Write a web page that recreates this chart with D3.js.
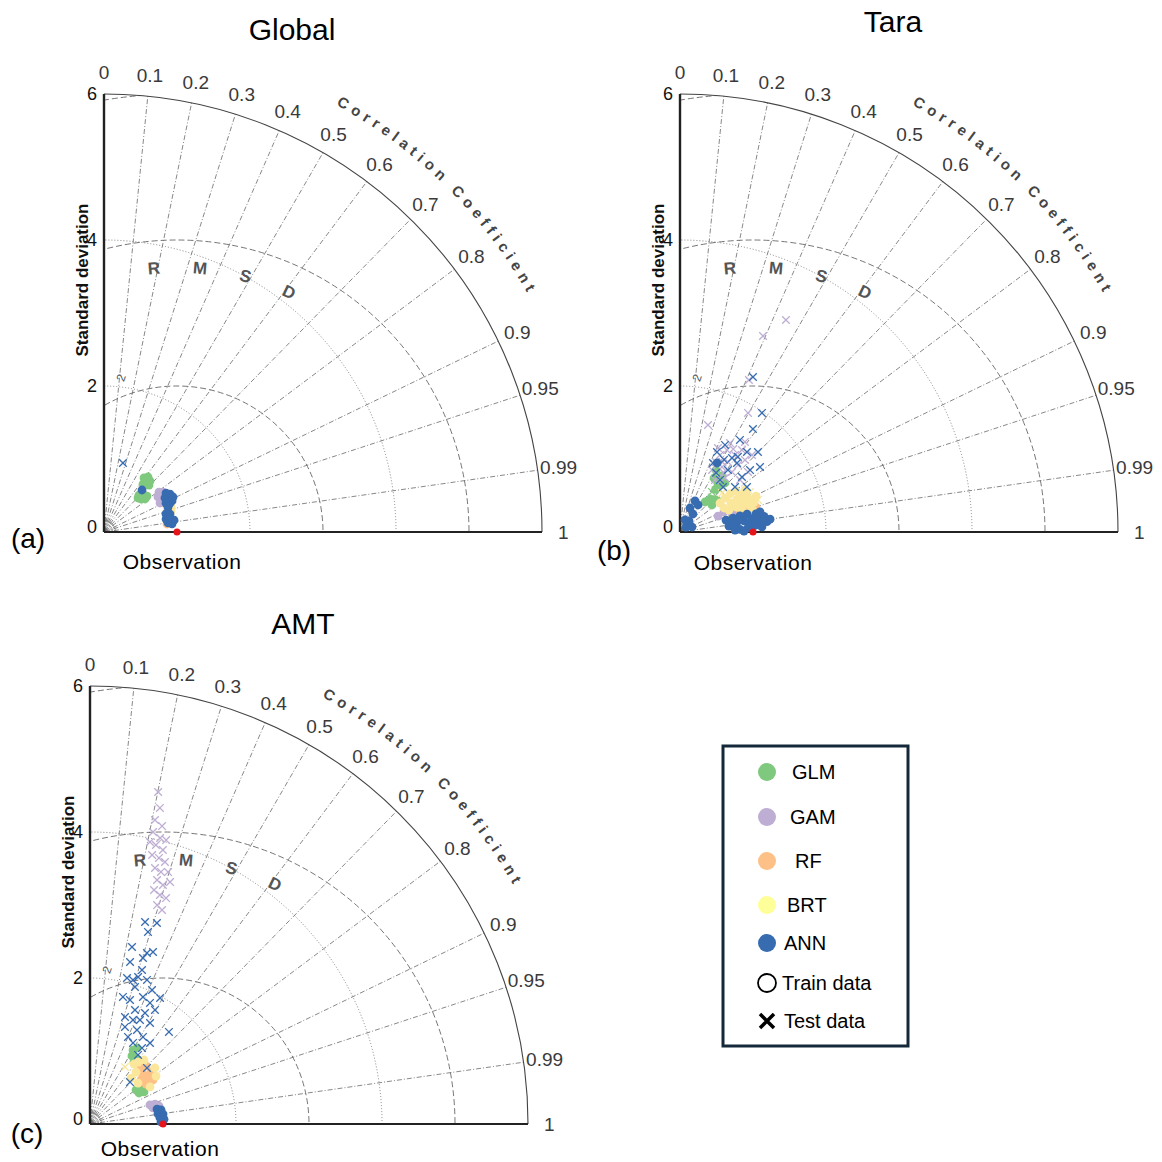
<!DOCTYPE html>
<html>
<head>
<meta charset="utf-8">
<script src="https://cdn.jsdelivr.net/npm/d3@7"></script>
<style>
  body { margin: 0; background: #fff; }
  svg { display: block; }
  text { font-family: "Liberation Sans", Arial, Helvetica, sans-serif; }
</style>
</head>
<body>
<svg id="chart" width="1162" height="1162"></svg>
<script>
// ---- Taylor diagram settings -------------------------------------------
const panelTitles = ["Global", "Tara", "AMT"];
const panelTags = ["(a)", "(b)", "(c)"];
const models = ["GLM", "GAM", "RF", "BRT", "ANN"];
const legendColors = ["#7fc97f", "#beaed4", "#fdc086", "#ffff99", "#386cb0"];
const markerColors = ["#7fc97f", "#beaed4", "#fdc086", "#fbe79c", "#386cb0"];
const corrTicks = [0, 0.1, 0.2, 0.3, 0.4, 0.5, 0.6, 0.7, 0.8, 0.9, 0.95, 0.99, 1];
const corrTickLabels = ["0", "0.1", "0.2", "0.3", "0.4", "0.5", "0.6", "0.7", "0.8", "0.9", "0.95", "0.99", "1"];
const corrAxisTitle = "Correlation Coefficient";
const stdTicks = [0, 2, 4, 6];
const stdCircles = [2, 4];
const rmsdCircles = [2, 4, 6];
const obsStd = 1;
const stdMax = 6;

// ---- Model skill points: [standard deviation, correlation] --------------
// Global
const aGLMtrain = [[0.921,0.595],[0.965,0.625],[0.941,0.670],[0.884,0.651],[0.847,0.631],[0.891,0.692],[0.915,0.628],
  [0.697,0.687],[0.746,0.716],[0.768,0.767],[0.679,0.746],[0.721,0.779],[0.659,0.707]];
const aGAMtrain = [[0.931,0.809],[0.976,0.828],[0.881,0.839],[0.921,0.863],[0.864,0.888],[0.913,0.900]];
const aRFtrain = [[0.870,0.992]];
const aBRTtrain = [[0.928,0.930],[0.980,0.937],[0.910,0.949],[0.962,0.954]];
const aANNtrain = [[0.776,0.671],[1.003,0.847],[1.043,0.867],[0.957,0.873],[1.005,0.886],[1.060,0.892],[0.937,0.906],
  [0.987,0.916],[0.941,0.932],[1.024,0.910],[0.884,0.960],[0.937,0.965],[0.868,0.979],[0.921,0.981],[0.973,0.986],
  [0.886,0.990],[0.938,0.993]];
const aANNtest = [[0.980,0.265]];

// Tara
const bGLMtrain = [[0.535,0.640],[0.611,0.673],[0.573,0.764],[0.670,0.757],[0.874,0.533],[0.828,0.629],[0.959,0.600],
  [0.911,0.676],[0.982,0.502],[1.035,0.887],[0.640,0.720],[0.760,0.640]];
const bGLMtest = [[0.702,0.624],[0.794,0.690],[0.880,0.580]];
const bGAMtrain = [[0.565,0.922],[0.662,0.910],[0.756,0.925],[0.806,0.952]];
const bGAMtest = [[0.956,0.459],[1.078,0.457],[1.189,0.461],[1.060,0.543],[1.295,0.497],[1.163,0.565],[1.088,0.655],
  [1.296,0.581],[1.214,0.655],[1.408,0.603],[1.329,0.670],[1.243,0.750],[0.963,0.640],[0.858,0.558],[1.088,0.756],
  [1.398,0.490],[1.444,0.683],[1.263,0.412],[1.515,0.253],[1.521,0.585],[1.878,0.496],[2.286,0.413],[2.916,0.390],
  [3.247,0.447],[1.120,0.520],[1.350,0.540],[1.010,0.590]];
const bRFtrain = [[0.875,0.939],[0.971,0.946],[1.024,0.963],[0.924,0.963],[1.096,0.950]];
const bBRTtrain = [[0.677,0.810],[0.772,0.798],[0.687,0.878],[0.860,0.796],[0.804,0.869],[0.735,0.913],[0.951,0.807],
  [0.902,0.866],[0.840,0.913],[0.989,0.859],[0.950,0.908],[0.901,0.942],[1.042,0.894],[1.015,0.931],[1.094,0.927],
  [1.035,0.953],[1.060,0.840],[1.152,0.904]];
const bBRTtest = [[0.785,0.733],[1.104,0.868],[1.155,0.925]];
const bANNtrain = [[0.651,0.968],[0.676,0.993],[0.751,0.967],[0.775,0.990],[0.851,0.966],[0.823,0.999],[0.890,0.985],
  [0.951,0.966],[0.934,0.998],[1.002,0.984],[1.032,0.996],[1.070,0.973],[1.094,0.989],[1.125,0.998],[1.171,0.983],
  [1.200,0.993],[0.877,0.9999],[0.754,0.9994],[1.130,0.970],[1.246,0.990],[0.700,0.980],[0.810,0.982],[0.970,0.992],
  [1.060,0.985],[1.150,0.992],
  [0.107,0.770],[0.195,0.633],[0.304,0.585],[0.356,0.385],[0.472,0.435],[0.445,0.555],[0.178,0.384],[0.178,0.923],
  [1.073,0.473]];
const bANNtest = [[1.729,0.578],[1.980,0.567],[1.530,0.698],[1.429,0.642],[1.207,0.420],[1.226,0.637],[1.074,0.612],
  [1.135,0.748],[0.899,0.609],[1.281,0.749],[0.973,0.774],[0.853,0.691],[1.105,0.830],[1.048,0.431],[2.347,0.426],
  [1.239,0.575],[1.342,0.459],[1.505,0.546],[1.412,0.776],[1.160,0.520],[1.300,0.610],[0.950,0.520]];

// AMT
const cGLMtrain = [[1.172,0.503],[1.224,0.526],[1.095,0.525],[1.102,0.572],[1.041,0.579],[0.784,0.804],[0.836,0.819],
  [0.860,0.860],[0.794,0.845]];
const cGAMtrain = [[0.862,0.953],[0.931,0.956],[0.977,0.968],[0.890,0.969]];
const cGAMtest = [[4.643,0.201],[4.434,0.216],[4.258,0.209],[4.199,0.235],[4.092,0.211],[4.034,0.238],[4.027,0.259],
  [3.927,0.230],[3.884,0.257],[3.782,0.225],[3.765,0.251],[3.733,0.275],[3.618,0.246],[3.587,0.271],[3.613,0.296],
  [3.466,0.265],[3.423,0.292],[3.492,0.314],[3.323,0.264],[3.280,0.292],[3.266,0.319],[3.137,0.293],[3.093,0.319],
  [3.949,0.208]];
const cRFtrain = [[1.028,0.666],[1.105,0.694],[1.098,0.761],[0.998,0.727],[1.014,0.784],[0.923,0.757],[0.943,0.814],
  [1.053,0.820]];
const cBRTtrain = [[1.019,0.592],[1.074,0.613],[0.951,0.663],[1.175,0.757],[1.118,0.809],[0.966,0.851],[0.865,0.761],
  [0.844,0.666],[1.147,0.645]];
const cBRTtest = [[0.916,0.523]];
const cANNtrain = [[0.941,0.976],[0.992,0.981],[0.942,0.989],[1.009,0.991],[0.962,0.996],[1.016,0.998],[0.973,0.9996]];
const cANNtest = [[2.868,0.263],[2.902,0.316],[2.748,0.289],[2.492,0.231],[2.509,0.344],[2.469,0.316],[2.387,0.304],
  [2.286,0.240],[2.227,0.320],[2.119,0.311],[2.063,0.246],[2.059,0.286],[2.122,0.368],[1.975,0.312],[2.023,0.420],
  [1.975,0.486],[1.798,0.251],[1.785,0.307],[1.885,0.385],[1.851,0.444],[1.679,0.367],[1.697,0.444],[1.798,0.495],
  [1.542,0.311],[1.542,0.382],[1.581,0.433],[1.610,0.511],[1.413,0.339],[1.440,0.447],[1.301,0.400],[1.396,0.520],
  [1.257,0.469],[1.381,0.595],[1.661,0.651],[1.261,0.565],[1.095,0.713],[0.794,0.690],[1.152,0.571]];

const panelData = [
  { GLM: [aGLMtrain, []], GAM: [aGAMtrain, []], RF: [aRFtrain, []], BRT: [aBRTtrain, []], ANN: [aANNtrain, aANNtest] },
  { GLM: [bGLMtrain, bGLMtest], GAM: [bGAMtrain, bGAMtest], RF: [bRFtrain, []], BRT: [bBRTtrain, bBRTtest], ANN: [bANNtrain, bANNtest] },
  { GLM: [cGLMtrain, []], GAM: [cGAMtrain, cGAMtest], RF: [cRFtrain, []], BRT: [cBRTtrain, cBRTtest], ANN: [cANNtrain, cANNtest] }
];

// ---- Layout --------------------------------------------------------------
const layout = [
  { ox: 104, oy: 532, title: [292, 40], tag: [28, 548], obs: [182, 569] },
  { ox: 680, oy: 532, title: [893, 32], tag: [614, 560], obs: [753, 570] },
  { ox: 90, oy: 1124, title: [303, 634], tag: [27, 1143], obs: [160, 1156] }
];

const svg = d3.select("#chart");
const r = d3.scaleLinear().domain([0, stdMax]).range([0, 438]);

// Cartesian position of a (std, corr) pair relative to the panel origin
const px = (s, c) => r(s * c);
const py = (s, c) => -r(s * Math.sqrt(Math.max(0, 1 - c * c)));

const defs = svg.append("defs");

layout.forEach((L, i) => {
  const g = svg.append("g").attr("transform", `translate(${L.ox},${L.oy})`);
  const R = r(stdMax);

  defs.append("clipPath").attr("id", `quarter${i}`)
    .append("path")
    .attr("d", `M0,0L${R},0A${R},${R} 0 0 0 0,${-R}Z`);

  const grid = g.append("g").attr("fill", "none");

  // correlation rays (dash-dot)
  corrTicks.filter(c => c > 0 && c < 1).forEach(c => {
    grid.append("line")
      .attr("x1", 0).attr("y1", 0)
      .attr("x2", px(stdMax, c)).attr("y2", py(stdMax, c))
      .attr("stroke", "#6a6a6a").attr("stroke-width", 0.8)
      .attr("stroke-dasharray", "5,2,1,2");
  });

  // small arcs around the origin where the rays converge
  [0.04, 0.08, 0.12, 0.16].forEach(s => {
    grid.append("path")
      .attr("d", `M${r(s)},0A${r(s)},${r(s)} 0 0 0 0,${-r(s)}`)
      .attr("stroke", "#777").attr("stroke-width", 0.7);
  });

  // standard-deviation circles (dotted)
  stdCircles.forEach(s => {
    grid.append("path")
      .attr("d", `M${r(s)},0A${r(s)},${r(s)} 0 0 0 0,${-r(s)}`)
      .attr("stroke", "#777").attr("stroke-width", 0.9)
      .attr("stroke-dasharray", "1,2");
  });

  // centred RMS difference circles (dashed) around the observation point
  const rm = grid.append("g").attr("clip-path", `url(#quarter${i})`);
  rmsdCircles.forEach(d => {
    rm.append("circle")
      .attr("cx", r(obsStd)).attr("cy", 0).attr("r", r(d))
      .attr("stroke", "#666").attr("stroke-width", 0.9)
      .attr("stroke-dasharray", "6,3");
  });

  // outer arc
  g.append("path")
    .attr("d", `M${R},0A${R},${R} 0 0 0 0,${-R}`)
    .attr("fill", "none").attr("stroke", "#444").attr("stroke-width", 1.1);

  // axes
  g.append("line").attr("x1", 0).attr("y1", 0).attr("x2", R).attr("y2", 0)
    .attr("stroke", "#222").attr("stroke-width", 2);
  g.append("line").attr("x1", 0).attr("y1", 0).attr("x2", 0).attr("y2", -R)
    .attr("stroke", "#222").attr("stroke-width", 2.4);

  // RMSD labels
  const rLab = 3.63;
  [["R", 95], ["M", 85], ["S", 75], ["D", 65]].forEach(([ch, ang]) => {
    const a = ang * Math.PI / 180;
    const x = r(obsStd + rLab * Math.cos(a));
    const y = -r(rLab * Math.sin(a));
    g.append("text").attr("x", x).attr("y", y)
      .attr("transform", `rotate(${90 - ang},${x},${y})`)
      .attr("text-anchor", "middle").attr("dy", "0.35em")
      .attr("font-size", 17).attr("font-weight", "bold").attr("fill", "#555")
      .text(ch);
  });
  {
    const a = 110 * Math.PI / 180;
    const x = r(obsStd + 2.25 * Math.cos(a));
    const y = -r(2.25 * Math.sin(a));
    g.append("text").attr("x", x).attr("y", y)
      .attr("transform", `rotate(-70,${x},${y})`)
      .attr("text-anchor", "middle").attr("dy", "0.35em")
      .attr("font-size", 12).attr("fill", "#555").text("2");
  }

  // correlation tick labels
  corrTicks.forEach((c, k) => {
    const lr = 6.29;
    g.append("text")
      .attr("x", px(lr, c)).attr("y", py(lr, c))
      .attr("text-anchor", "middle").attr("dy", "0.35em")
      .attr("font-size", 19).attr("fill", "#3a3a3a")
      .text(corrTickLabels[k]);
  });

  // "Correlation Coefficient" set letter by letter along the arc
  const rb = 486, a0 = 61.5 * Math.PI / 180, a1 = 29.5 * Math.PI / 180;
  const cc = g.append("g").attr("font-size", 15).attr("font-weight", "bold").attr("fill", "#444");
  const letters = corrAxisTitle.split("").map(ch => {
    const t = cc.append("text").attr("text-anchor", "middle").text(ch === " " ? "\u00a0" : ch);
    return { t, w: t.node().getComputedTextLength() };
  });
  const total = d3.sum(letters, d => d.w);
  const gap = (rb * (a0 - a1) - total) / (letters.length - 1);
  let s = 0;
  letters.forEach(d => {
    const ang = a0 - (s + d.w / 2) / rb;
    const x = rb * Math.cos(ang), y = -rb * Math.sin(ang);
    d.t.attr("transform", `translate(${x},${y}) rotate(${90 - ang * 180 / Math.PI})`);
    s += d.w + gap;
  });

  // std tick labels
  stdTicks.forEach(v => {
    g.append("text").attr("x", -12).attr("y", v === 0 ? -5 : -r(v))
      .attr("text-anchor", "middle").attr("dy", "0.35em")
      .attr("font-size", 18).attr("fill", "#111").text(v);
  });

  // axis title
  g.append("text")
    .attr("transform", `translate(-16,-252) rotate(-90)`)
    .attr("text-anchor", "middle")
    .attr("font-size", 17).attr("font-weight", "bold").attr("fill", "#111")
    .text("Standard deviation");

  // model points
  const pts = g.append("g");
  models.forEach((m, mi) => {
    const [train, test] = panelData[i][m];
    pts.append("g").selectAll("circle").data(train).join("circle")
      .attr("cx", d => px(d[0], d[1])).attr("cy", d => py(d[0], d[1]))
      .attr("r", 4.4).attr("fill", markerColors[mi]);
    pts.append("g").selectAll("path").data(test).join("path")
      .attr("transform", d => `translate(${px(d[0], d[1])},${py(d[0], d[1])})`)
      .attr("d", "M-3.8,-3.8L3.8,3.8M-3.8,3.8L3.8,-3.8")
      .attr("fill", "none").attr("stroke", markerColors[mi]).attr("stroke-width", 1.3);
  });

  // observation reference point
  g.append("circle").attr("cx", r(obsStd)).attr("cy", 0).attr("r", 3.5).attr("fill", "#e8141c");

  // titles and labels
  svg.append("text").attr("x", L.title[0]).attr("y", L.title[1])
    .attr("text-anchor", "middle").attr("font-size", 30).attr("fill", "#000")
    .text(panelTitles[i]);
  svg.append("text").attr("x", L.tag[0]).attr("y", L.tag[1])
    .attr("text-anchor", "middle").attr("font-size", 28).attr("fill", "#000")
    .text(panelTags[i]);
  svg.append("text").attr("x", L.obs[0]).attr("y", L.obs[1])
    .attr("text-anchor", "middle").attr("font-size", 21).attr("letter-spacing", 0.5).attr("fill", "#000")
    .text("Observation");
});

// ---- Legend --------------------------------------------------------------
const lg = svg.append("g");
lg.append("rect").attr("x", 723).attr("y", 746).attr("width", 185).attr("height", 300)
  .attr("fill", "#fff").attr("stroke", "#14283a").attr("stroke-width", 3);
const legendY = [772, 817, 861, 905, 943];
const legendTextX = [792, 790, 795, 787, 784];
models.forEach((m, mi) => {
  lg.append("circle").attr("cx", 767).attr("cy", legendY[mi]).attr("r", 9).attr("fill", legendColors[mi]);
  lg.append("text").attr("x", legendTextX[mi]).attr("y", legendY[mi]).attr("dy", "0.35em")
    .attr("font-size", 20).attr("fill", "#000").text(m);
});
lg.append("circle").attr("cx", 767).attr("cy", 983).attr("r", 9)
  .attr("fill", "none").attr("stroke", "#000").attr("stroke-width", 1.8);
lg.append("text").attr("x", 782).attr("y", 983).attr("dy", "0.35em").attr("font-size", 20).text("Train data");
lg.append("path").attr("transform", "translate(767,1021)")
  .attr("d", "M-7,-7L7,7M-7,7L7,-7").attr("stroke", "#000").attr("stroke-width", 3.5).attr("fill", "none");
lg.append("text").attr("x", 784).attr("y", 1021).attr("dy", "0.35em").attr("font-size", 20).text("Test data");
</script>
</body>
</html>
